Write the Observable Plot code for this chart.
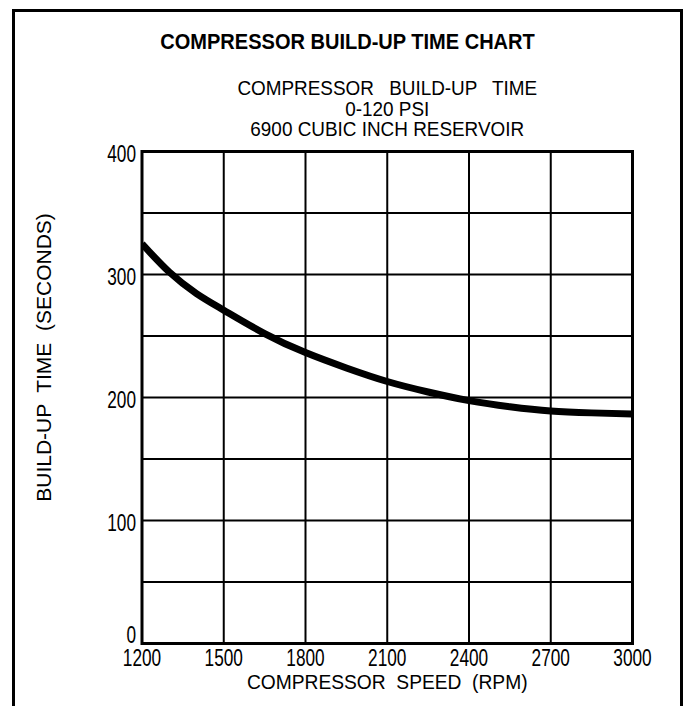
<!DOCTYPE html>
<html>
<head>
<meta charset="utf-8">
<script src="https://cdn.jsdelivr.net/npm/d3@7"></script>
<script src="https://cdn.jsdelivr.net/npm/@observablehq/plot@0.6"></script>
<style>
  html, body { margin: 0; padding: 0; background: #fff; }
  #wrap { position: relative; width: 686px; height: 706px; overflow: hidden; background: #fff;
          font-family: "Liberation Sans", Arial, Helvetica, sans-serif; color: #000; }
  #box { position: absolute; left: 12px; top: 9px; width: 671px; height: 800px; border: 3px solid #000; box-sizing: border-box; }
  #title { position: absolute; left: 12px; width: 671px; top: 28px; text-align: center; font-weight: bold; font-size: 22px; line-height: 28px;
           transform: scaleX(0.91); transform-origin: 336px 0; white-space: pre; }
  #sub { position: absolute; left: 141.5px; width: 490.5px; top: 78px; text-align: center; font-size: 20px; line-height: 20.5px; white-space: pre;
         transform: scaleX(0.945); transform-origin: 245px 0; }
  #sub div:first-child { word-spacing: 2.5px; }
  #chart { position: absolute; left: 0; top: 140px; }
</style>
</head>
<body>
<div id="wrap">
  <div id="box"></div>
  <div id="chart"></div>
  <div id="title"></div>
  <div id="sub"></div>
</div>
<script>
const titleText = "COMPRESSOR BUILD-UP TIME CHART";
const subtitleLines = ["COMPRESSOR  BUILD-UP  TIME", "0-120 PSI", "6900 CUBIC INCH RESERVOIR"];
const xLabel = "COMPRESSOR  SPEED  (RPM)";
const yLabel = "BUILD-UP  TIME  (SECONDS)";

// Curve
const rpm     = [1200, 1300, 1400,  1500, 1650, 1800,  1950, 2100, 2250,  2400,  2550,  2700, 2850,  3000];
const seconds = [325,  302,  284.5, 271,  252,  236.5, 224,  213,  204.5, 197.5, 192.5, 189,  187.5, 186.5];

const xTicks = [1200, 1500, 1800, 2100, 2400, 2700, 3000];
const yTickLabels = [100, 200, 300, 400];
const yZeroLabel = [0];
const yGrid = [50, 100, 150, 200, 250, 300, 350];

const data = rpm.map((r, i) => ({rpm: r, sec: seconds[i]}));

const sub = document.getElementById("sub");
subtitleLines.forEach(l => { const d = document.createElement("div"); d.textContent = l; sub.appendChild(d); });
document.getElementById("title").textContent = titleText;

const font = '"Liberation Sans", Arial, Helvetica, sans-serif';

const plot = Plot.plot({
  width: 686,
  height: 566,
  marginTop: 11,
  marginLeft: 141.5,
  marginRight: 54,
  marginBottom: 63,
  style: {fontFamily: font, fontSize: "23px", color: "#000", background: "transparent", overflow: "visible"},
  x: {domain: [1200, 3000]},
  y: {domain: [0, 400]},
  marks: [
    Plot.gridX(xTicks, {stroke: "#000", strokeOpacity: 1, strokeWidth: 2}),
    Plot.gridY(yGrid, {stroke: "#000", strokeOpacity: 1, strokeWidth: 2}),
    Plot.line(data, {x: "rpm", y: "sec", curve: "natural", stroke: "#000", strokeWidth: 7, strokeLinecap: "butt", clip: true}),
    Plot.frame({stroke: "#000", strokeWidth: 3}),
    Plot.axisX(xTicks, {tickSize: 0, tickPadding: 6, fontSize: 23, label: null, tickFormat: d => String(d)}),
    Plot.axisY(yTickLabels, {tickSize: 0, tickPadding: 6, fontSize: 23, label: null, dy: 3}),
    Plot.axisY(yZeroLabel, {tickSize: 0, tickPadding: 6, fontSize: 23, label: null, dy: -8}),
    Plot.text([xLabel], {frameAnchor: "bottom", dy: 45, fontSize: 21, textAnchor: "middle"}),
    Plot.text([yLabel], {frameAnchor: "left", dx: -98, dy: -40, rotate: -90, fontSize: 21, textAnchor: "middle"})
  ]
});

// Condense SVG text horizontally (narrow type as in the reference)
plot.querySelectorAll("text").forEach(t => {
  const c = t.textContent;
  const s = c === yLabel ? 1.0 : c === xLabel ? 0.915 : 0.75;
  let tr = t.getAttribute("transform");
  if (!tr) {
    const x = +(t.getAttribute("x") || 0), y = +(t.getAttribute("y") || 0);
    tr = `translate(${x},${y})`;
    t.setAttribute("x", 0); t.setAttribute("y", 0);
  }
  t.setAttribute("transform", `${tr} scale(${s},1)`);
});

document.getElementById("chart").appendChild(plot);
</script>
</body>
</html>
